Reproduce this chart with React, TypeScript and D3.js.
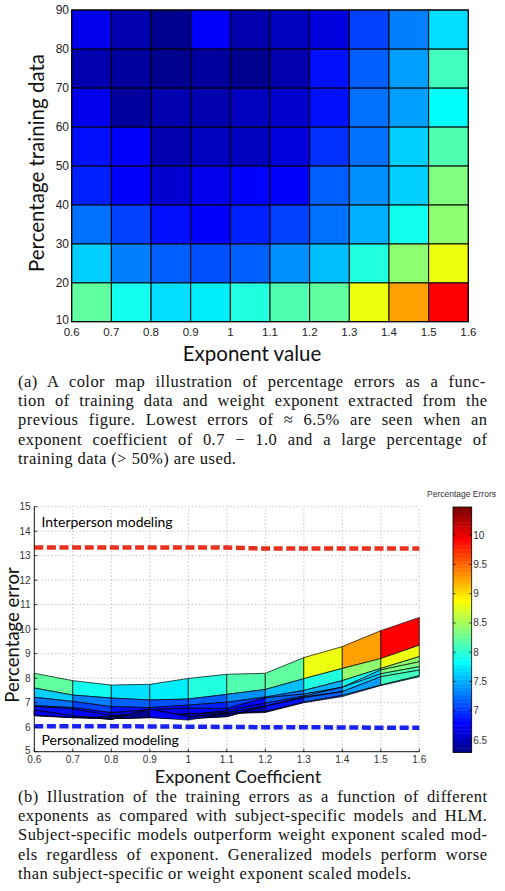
import React, { useMemo } from "react";
import * as d3 from "d3";

// ---------- data ----------
const exponents = [0.6, 0.7, 0.8, 0.9, 1.0, 1.1, 1.2, 1.3, 1.4, 1.5, 1.6];
const trainingPct = [10, 20, 30, 40, 50, 60, 70, 80, 90];
// percentage error per training-data row (10%..90%) and exponent column
const err10 = [8.2, 7.9, 7.72, 7.75, 7.99, 8.16, 8.2, 8.84, 9.29, 9.94, 10.48];
const err20 = [7.6, 7.31, 7.19, 7.11, 7.15, 7.34, 7.54, 7.98, 8.4, 8.8, 9.35];
const err30 = [7.22, 7.05, 6.84, 6.8, 6.9, 7.02, 7.23, 7.5, 7.9, 8.4, 8.88];
const err40 = [6.88, 6.8, 6.59, 6.72, 6.77, 6.77, 7.2, 7.35, 7.63, 8.34, 8.67];
const err50 = [6.85, 6.75, 6.47, 6.55, 6.5, 6.68, 6.98, 7.27, 7.63, 8.18, 8.47];
const err60 = [6.7, 6.39, 6.43, 6.47, 6.55, 6.59, 6.86, 7.23, 7.45, 7.86, 8.2];
const err70 = [6.47, 6.39, 6.35, 6.39, 6.35, 6.43, 6.86, 7.2, 7.45, 8.06, 8.33];
const err80 = [6.7, 6.47, 6.31, 6.75, 6.43, 6.55, 6.64, 7.02, 7.3, 7.72, 8.1];
const err90 = [6.5, 6.4, 6.35, 6.4, 6.29, 6.55, 6.6, 7.0, 7.25, 7.7, 8.06];
const errorRows = [err10, err20, err30, err40, err50, err60, err70, err80, err90];

const interperson = [13.33, 13.33, 13.33, 13.33, 13.33, 13.33, 13.29, 13.29, 13.29, 13.29, 13.29];
const personalized = [6.04, 6.04, 6.04, 6.03, 6.02, 6.01, 6.0, 6.0, 5.99, 5.98, 5.98];

const heatXTicks = [0.6, 0.7, 0.8, 0.9, 1, 1.1, 1.2, 1.3, 1.4, 1.5, 1.6];
const heatYTicks = [10, 20, 30, 40, 50, 60, 70, 80, 90];
const lineYTicks = [5, 6, 7, 8, 9, 10, 11, 12, 13, 14, 15];
const cbarTicks = [6.5, 7, 7.5, 8, 8.5, 9, 9.5, 10];

const captionA = [
  "(a) A color map illustration of percentage errors as a func-",
  "tion of training data and weight exponent extracted from the",
  "previous figure. Lowest errors of \u2248 6.5% are seen when an",
  "exponent coefficient of 0.7 \u2212 1.0 and a large percentage of",
  "training data (> 50%) are used.",
];
const captionB = [
  "(b) Illustration of the training errors as a function of different",
  "exponents as compared with subject-specific models and HLM.",
  "Subject-specific models outperform weight exponent scaled mod-",
  "els regardless of exponent. Generalized models perform worse",
  "than subject-specific or weight exponent scaled models.",
];

// ---------- MATLAB jet(64) ----------
function jetMap(m: number) {
  const n = Math.ceil(m / 4);
  const u: number[] = [];
  for (let i = 1; i <= n; i++) u.push(i / n);
  for (let i = 1; i < n; i++) u.push(1);
  for (let i = n; i >= 1; i--) u.push(i / n);
  const gOff = Math.ceil(n / 2) - (m % 4 === 1 ? 1 : 0);
  const J = Array.from({ length: m }, () => [0, 0, 0]);
  u.forEach((v, k) => {
    const g = gOff + k + 1;
    const r = g + n;
    const b = g - n;
    if (r >= 1 && r <= m) J[r - 1][0] = v;
    if (g >= 1 && g <= m) J[g - 1][1] = v;
    if (b >= 1 && b <= m) J[b - 1][2] = v;
  });
  return J.map((c) => d3.rgb(c[0] * 255, c[1] * 255, c[2] * 255).formatHex());
}
const JET = jetMap(64);
const allVals = errorRows.flat();
const [cmin, cmax] = d3.extent(allVals) as [number, number];
const colorIndex = d3.scaleLinear().domain([cmin, cmax]).range([0, 64]);
function jet(v: number) {
  const idx = Math.max(0, Math.min(63, Math.floor(colorIndex(v))));
  return JET[idx];
}

const SERIF = "'Liberation Serif', 'Times New Roman', serif";
const SANS = "Lato, 'Liberation Sans', sans-serif";
const TICK = "'Liberation Sans', Arial, sans-serif";
const CAP_SIZE = 16.5;
const CAP_LS = 0.45;

function useJustify(lines: string[], width: number) {
  return useMemo(() => {
    const c = document.createElement("canvas").getContext("2d")!;
    c.font = `${CAP_SIZE}px 'Liberation Serif'`;
    return lines.map((l, i) => {
      if (i === lines.length - 1) return 0;
      const w = c.measureText(l).width + CAP_LS * (l.length - 1);
      const spaces = (l.match(/ /g) || []).length;
      return spaces ? (width - w) / spaces : 0;
    });
  }, [lines, width]);
}

export default function App() {
  // heatmap geometry
  const xH = d3.scaleLinear().domain([0.6, 1.6]).range([71.7, 468.3]);
  const yH = d3.scaleLinear().domain([10, 90]).range([321.7, 10]);
  // line chart geometry
  const xB = d3.scaleLinear().domain([0.6, 1.6]).range([34.3, 419.3]);
  const yB = d3.scaleLinear().domain([5, 15]).range([751.7, 506.7]);
  // colorbar
  const cbX = 453;
  const cbW = 18.7;
  const yC = d3.scaleLinear().domain([cmin, cmax]).range([752.3, 507]);

  const capLeft = 18;
  const capWidth = 469;
  const spA = useJustify(captionA, capWidth);
  const spB = useJustify(captionB, capWidth);

  const cells: JSX.Element[] = [];
  for (let j = 0; j < trainingPct.length - 1; j++) {
    for (let i = 0; i < exponents.length - 1; i++) {
      const x0 = xH(exponents[i]);
      const x1 = xH(exponents[i + 1]);
      const y0 = yH(trainingPct[j + 1]);
      const y1 = yH(trainingPct[j]);
      cells.push(
        <rect key={`c${j}-${i}`} x={x0} y={y0} width={x1 - x0} height={y1 - y0}
          fill={jet(errorRows[j][i])} stroke="#000" strokeWidth={1} />
      );
    }
  }

  const bands: JSX.Element[] = [];
  for (let j = 0; j < errorRows.length - 1; j++) {
    for (let i = 0; i < exponents.length - 1; i++) {
      const pts = [
        [xB(exponents[i]), yB(errorRows[j][i])],
        [xB(exponents[i + 1]), yB(errorRows[j][i + 1])],
        [xB(exponents[i + 1]), yB(errorRows[j + 1][i + 1])],
        [xB(exponents[i]), yB(errorRows[j + 1][i])],
      ];
      bands.push(
        <polygon key={`b${j}-${i}`} points={pts.map((p) => p.join(",")).join(" ")}
          fill={jet(errorRows[j][i])} stroke="#000" strokeWidth={0.7} strokeLinejoin="round" />
      );
    }
  }

  const line = d3.line<number>().x((_, i) => xB(exponents[i])).y((d) => yB(d));

  const cbarSteps = d3.range(64);

  const capStyle = (ws: number) => ({
    wordSpacing: `${ws}px`,
    letterSpacing: `${CAP_LS}px`,
    whiteSpace: "pre" as const,
  });

  return (
    <svg width={505} height={891} style={{ position: "absolute", left: 0, top: 0, background: "#fff" }}>
      <rect x={0} y={0} width={505} height={891} fill="#fff" />
      {/* ---------- (a) heatmap ---------- */}
      <g>{cells}</g>
      <rect x={xH(0.6)} y={yH(90)} width={xH(1.6) - xH(0.6)} height={yH(10) - yH(90)}
        fill="none" stroke="#000" strokeWidth={1} />
      {heatYTicks.map((t) => (
        <text key={`hy${t}`} x={69} y={t === 10 ? yH(t) - 1.5 : yH(t)} textAnchor="end" dominantBaseline="central"
          fontFamily={TICK} fontSize={12} fill="#222">{t}</text>
      ))}
      {heatXTicks.map((t) => (
        <text key={`hx${t}`} x={xH(t)} y={332} textAnchor="middle" dominantBaseline="central"
          fontFamily={TICK} fontSize={11.5} fill="#222">{t}</text>
      ))}
      <text x={252} y={360.5} textAnchor="middle" fontFamily={SANS} fontSize={20.5} fill="#111">Exponent value</text>
      <text transform={`translate(44,163) rotate(-90)`} textAnchor="middle" fontFamily={SANS}
        fontSize={20.5} fill="#111">Percentage training data</text>

      {/* caption (a) */}
      {captionA.map((l, i) => (
        <text key={`ca${i}`} x={capLeft} y={386.5 + i * 19.4} fontFamily={SERIF} fontSize={CAP_SIZE}
          fill="#111" style={capStyle(spA[i])}>{l}</text>
      ))}

      {/* ---------- (b) line/band chart ---------- */}
      {lineYTicks.map((t) => (
        <line key={`gy${t}`} x1={xB(0.6)} x2={xB(1.6)} y1={yB(t)} y2={yB(t)}
          stroke="#999" strokeWidth={0.8} strokeDasharray="1,2.5" />
      ))}
      {exponents.map((t) => (
        <line key={`gx${t}`} x1={xB(t)} x2={xB(t)} y1={yB(5)} y2={yB(15)}
          stroke="#999" strokeWidth={0.8} strokeDasharray="1,2.5" />
      ))}
      <g>{bands}</g>
      <path d={line(interperson)!} fill="none" stroke="#e8321e" strokeWidth={4.5} strokeDasharray="9,3.6" />
      <path d={line(personalized)!} fill="none" stroke="#1a22f0" strokeWidth={4.5} strokeDasharray="9,3.6" />
      <line x1={xB(0.6)} x2={xB(0.6)} y1={yB(5)} y2={yB(15)} stroke="#000" strokeWidth={0.9} />
      <line x1={xB(0.6)} x2={xB(1.6)} y1={yB(5)} y2={yB(5)} stroke="#000" strokeWidth={0.9} />
      {lineYTicks.map((t) => (
        <g key={`ly${t}`}>
          <line x1={xB(0.6)} x2={xB(0.6) + 3} y1={yB(t)} y2={yB(t)} stroke="#000" strokeWidth={0.8} />
          <text x={30.5} y={t === 5 ? yB(t) - 1.5 : yB(t)} textAnchor="end" dominantBaseline="central" fontFamily={TICK}
            fontSize={10} fill="#333">{t}</text>
        </g>
      ))}
      {exponents.map((t) => (
        <g key={`lx${t}`}>
          <line x1={xB(t)} x2={xB(t)} y1={yB(5)} y2={yB(5) - 3} stroke="#000" strokeWidth={0.8} />
          <text x={xB(t)} y={759.5} textAnchor="middle" dominantBaseline="central" fontFamily={TICK}
            fontSize={10} fill="#333">{t}</text>
        </g>
      ))}
      <text x={41.5} y={527} fontFamily={SANS} fontSize={14} fill="#000">Interperson modeling</text>
      <text x={41.5} y={744.5} fontFamily={SANS} fontSize={14} fill="#000">Personalized modeling</text>
      <text x={238} y={782.5} textAnchor="middle" fontFamily={SANS} fontSize={18} fill="#111">Exponent Coefficient</text>
      <text transform={`translate(19,635) rotate(-90)`} textAnchor="middle" fontFamily={SANS}
        fontSize={18.5} fill="#111">Percentage error</text>

      {/* colorbar */}
      {cbarSteps.map((k) => {
        const v0 = cmin + (k / 64) * (cmax - cmin);
        const v1 = cmin + ((k + 1) / 64) * (cmax - cmin);
        return (
          <rect key={`cb${k}`} x={cbX} y={yC(v1)} width={cbW} height={yC(v0) - yC(v1) + 0.4}
            fill={JET[k]} />
        );
      })}
      <rect x={cbX} y={yC(cmax)} width={cbW} height={yC(cmin) - yC(cmax)} fill="none" stroke="#000" strokeWidth={0.8} />
      {cbarTicks.map((t) => (
        <g key={`ct${t}`}>
          <line x1={cbX} x2={cbX + 2.5} y1={yC(t)} y2={yC(t)} stroke="#000" strokeWidth={0.7} />
          <line x1={cbX + cbW} x2={cbX + cbW - 2.5} y1={yC(t)} y2={yC(t)} stroke="#000" strokeWidth={0.7} />
          <text x={cbX + cbW + 1.5} y={yC(t)} dominantBaseline="central" fontFamily={TICK}
            fontSize={10} fill="#333">{t}</text>
        </g>
      ))}
      <text x={461.5} y={497} textAnchor="middle" fontFamily={TICK} fontSize={8.5} fill="#333">Percentage Errors</text>

      {/* caption (b) */}
      {captionB.map((l, i) => (
        <text key={`cbp${i}`} x={capLeft} y={802 + i * 19.2} fontFamily={SERIF} fontSize={CAP_SIZE}
          fill="#111" style={capStyle(spB[i])}>{l}</text>
      ))}
    </svg>
  );
}
